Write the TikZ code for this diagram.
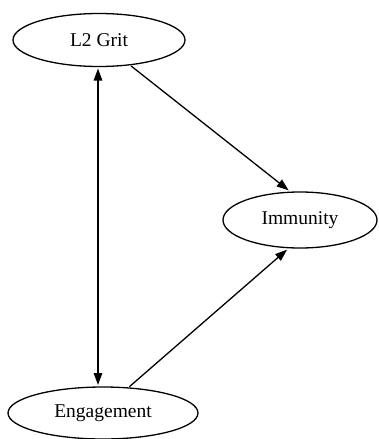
\documentclass[tikz,border=0pt]{standalone}
\usepackage{fontspec}
\setmainfont{Liberation Serif}
\usetikzlibrary{shapes.geometric,arrows.meta}

\tikzset{every picture/.style={line width=1.3pt},
  var/.style={draw,ellipse,inner sep=0pt,font=\fontsize{19.5}{23}\selectfont},
  link/.style={-{Triangle[length=12pt,width=8.5pt]},shorten >=2pt,shorten <=1pt}}

\begin{document}
\begin{tikzpicture}[x=1pt,y=1pt,yscale=-1,xscale=1]
	\useasboundingbox (0,0) rectangle (378,439);
	
	% Ellipses
	\node [var,minimum width=172,minimum height=53] (grit) at (99,40) {L2 Grit};
	\node [var,minimum width=154,minimum height=56] (immunity) at (300,220) {Immunity};
	\node [var,minimum width=190,minimum height=52] (engagement) at (103,413) {Engagement};
	
	% Vertical double arrow
	\coordinate (top) at (98,66.5);
	\coordinate (bot) at (98,387);
	\draw [link,{Triangle[length=12pt,width=8.5pt]}-{Triangle[length=12pt,width=8.5pt]},shorten <=2pt] (top) -- (bot);
	% Paths to Immunity
	\draw [link] (grit.-39) -- (immunity.109);
	\draw [link] (engagement.45) -- (immunity.248);
\end{tikzpicture}
\end{document}
